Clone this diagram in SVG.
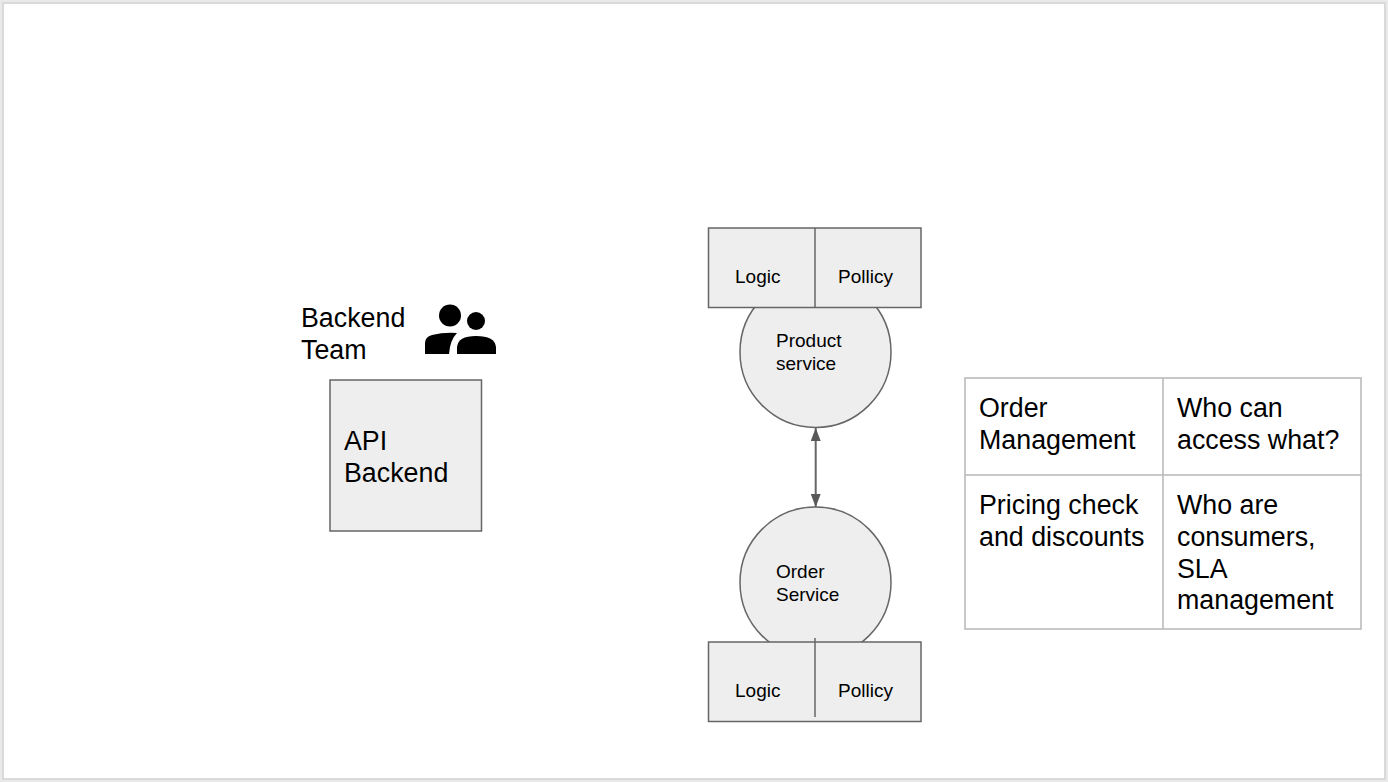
<svg xmlns="http://www.w3.org/2000/svg" width="1388" height="782" viewBox="0 0 1388 782">
<style>
text{font-family:"Liberation Sans",Arial,sans-serif;fill:#000}
.s{font-size:19px}
.m{font-size:26.8px}
.n{fill:#eeeeee;stroke:#666666;stroke-width:1.5}
.d{stroke:#666666;stroke-width:1.5;fill:none}
.g{stroke:#b7b7b7;stroke-width:1.5;fill:none}
</style>
<defs>
<marker id="a" viewBox="0 0 13 10" refX="13" refY="5" markerWidth="13" markerHeight="10" markerUnits="userSpaceOnUse" orient="auto-start-reverse"><path d="M0 0L13 5L0 10Z" fill="#595959"/></marker>
<filter id="b" x="-5%" y="-5%" width="110%" height="110%"><feGaussianBlur stdDeviation="0.6"/></filter>
</defs>
<rect x="0" y="0" width="1388" height="782" fill="#e9e9e9"/>
<rect x="3" y="3" width="1382" height="776" fill="#ffffff" stroke="#d9d9d9" stroke-width="2"/>
<g id="connectors"><line x1="815.700" y1="428" x2="815.700" y2="507" stroke="#666666" stroke-width="2" marker-start="url(#a)" marker-end="url(#a)"/></g>
<g id="team"><text class="m" x="301" y="327.400">Backend</text><text class="m" x="301" y="359.400">Team</text>
<g fill="#000" filter="url(#b)"><circle cx="450" cy="315.500" r="11"/><circle cx="476" cy="321" r="9"/><path d="M425 354V343Q425 337 432 335Q444 332 457 333Q450 340 449 354Z"/><path d="M457 354V347Q458 336 476 336Q495 336 496 347V354Z"/></g></g>
<g id="api-backend"><rect class="n" x="330" y="380" width="151.500" height="151"/><text class="m" x="344" y="450.400">API</text><text class="m" x="344" y="482.400">Backend</text></g>
<g id="product-service"><circle class="n" cx="815.500" cy="352" r="75.500"/><text class="s" x="776" y="347">Product</text><text class="s" x="776" y="370">service</text></g>
<g id="product-box"><rect class="n" x="708.500" y="228" width="212.500" height="79.500"/><line class="d" x1="815" y1="228" x2="815" y2="307"/><text class="s" x="735" y="283">Logic</text><text class="s" x="838" y="283">Pollicy</text></g>
<g id="order-service"><circle class="n" cx="815.500" cy="582.500" r="75.500"/><text class="s" x="776" y="578">Order</text><text class="s" x="776" y="601">Service</text></g>
<g id="order-box"><rect class="n" x="708.500" y="642" width="212.500" height="79.500"/><line class="d" x1="815" y1="638" x2="815" y2="717"/><text class="s" x="735" y="697">Logic</text><text class="s" x="838" y="697">Pollicy</text></g>
<g id="table"><rect class="g" x="965" y="378" width="396" height="251"/><line class="g" x1="1163" y1="378" x2="1163" y2="629"/><line class="g" x1="965" y1="475" x2="1361" y2="475"/>
<text class="m" x="979" y="417.400">Order</text><text class="m" x="979" y="449.400">Management</text>
<text class="m" x="1177" y="417.400">Who can</text><text class="m" x="1177" y="449.400">access what?</text>
<text class="m" x="979" y="514.400">Pricing check</text><text class="m" x="979" y="546.400">and discounts</text>
<text class="m" x="1177" y="514.400">Who are</text><text class="m" x="1177" y="546.400">consumers,</text><text class="m" x="1177" y="578.400">SLA</text><text class="m" x="1177" y="609.400">management</text></g>
</svg>
